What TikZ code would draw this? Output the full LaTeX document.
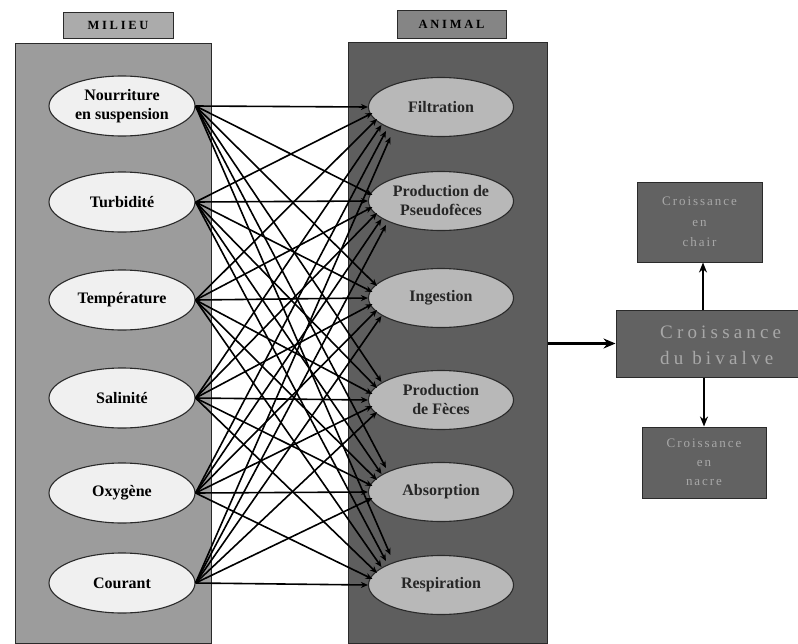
\documentclass[tikz,border=0pt]{standalone}
\usepackage{fontspec}
\setmainfont{Liberation Serif}
\newfontfamily\spacedbf[LetterSpace=22]{Liberation Serif}
\newfontfamily\spacedrm[LetterSpace=15]{Liberation Serif}
\newfontfamily\spacedbig[LetterSpace=22]{Liberation Serif}
\usetikzlibrary{shapes.geometric,arrows.meta,calc}
\definecolor{milieubg}{HTML}{9C9C9C}
\definecolor{animalbg}{HTML}{5E5E5E}
\definecolor{lellfill}{HTML}{F0F0F0}
\definecolor{rellfill}{HTML}{B8B8B8}
\definecolor{boxbg}{HTML}{626262}
\definecolor{boxtext}{HTML}{A8A8A8}
\definecolor{edgecol}{HTML}{2A2A2A}
\tikzset{
  panel/.style={draw=edgecol, line width=1pt, inner sep=0pt, anchor=center},
  tag/.style={draw=edgecol, line width=1pt, inner sep=0pt, font=\spacedbf\fontsize{12.5}{14}\selectfont\bfseries},
  lell/.style={ellipse, draw=edgecol, line width=1.1pt, fill=lellfill, minimum width=146pt, minimum height=60pt, inner sep=0pt, align=center, font=\fontsize{16}{19}\selectfont\bfseries},
  rell/.style={ellipse, draw=edgecol, line width=1.1pt, fill=rellfill, minimum width=145pt, minimum height=59pt, inner sep=0pt, align=center, font=\fontsize{16}{19}\selectfont\bfseries, text=black!85},
  conn/.style={line width=1.6pt, black, -{Stealth[length=7pt,width=6pt]}},
  gbox/.style={draw=edgecol, line width=1pt, fill=boxbg, inner sep=0pt, align=center, text=boxtext},
  boxlabel/.style={inner sep=0pt, text=boxtext, align=left, anchor=west},
  garrow/.style={line width=1.7pt, black, -{Stealth[length=10pt,width=8pt]}},
  bigarrow/.style={line width=2.4pt, black, -{Stealth[length=12pt,width=10pt]}}
}
\begin{document}
\begin{tikzpicture}[x=1pt,y=-1pt]
\useasboundingbox (0,0) rectangle (798,643);
% panels
\node[panel, fill=milieubg, minimum width=196pt, minimum height=600pt] (milieupanel) at (113,343) {};
\node[panel, fill=animalbg, minimum width=199pt, minimum height=601pt] (animalpanel) at (447.5,342.5) {};
% tags
\node[tag, fill=milieubg!85!white, minimum width=110pt, minimum height=26pt] (milieutag) at (118,25) {MILIEU};
\node[tag, fill=black!48, minimum width=109pt, minimum height=28pt] (animaltag) at (451.5,24.5) {ANIMAL};
% left ellipses
\node[lell] (l1) at (122,106) {Nourriture\\en suspension};
\node[lell] (l2) at (122,202) {Turbidité};
\node[lell] (l3) at (122,300) {Température};
\node[lell] (l4) at (122,398) {Salinité};
\node[lell] (l5) at (122,493) {Oxygène};
\node[lell] (l6) at (122,583) {Courant};
% right ellipses
\node[rell] (r1) at (441,107) {Filtration};
\node[rell] (r2) at (441,201) {Production de\\Pseudofèces};
\node[rell] (r3) at (441,298) {Ingestion};
\node[rell] (r4) at (441,400) {Production\\de Fèces};
\node[rell] (r5) at (441,492) {Absorption};
\node[rell] (r6) at (441,585) {Respiration};
% connectors
\foreach \a in {1,...,6}{
  \foreach \b in {1,...,6}{
    \pgfmathsetmacro\dd{\a-\b}
    \pgfmathsetmacro\ddx{4.5*abs(\dd)}
    \pgfmathsetmacro\ddy{6*\dd}
    \draw[conn] (l\a.east) -- ($(r\b.west)+(\ddx,\ddy)$);
  }
}
% growth boxes
\node[gbox, minimum width=125pt, minimum height=80pt, font=\spacedrm\fontsize{13}{20.5}\selectfont] (chair) at (699.5,222) {Croissance\\en\\chair};
\node[gbox, minimum width=182pt, minimum height=67pt] (bivalve) at (707,343.5) {};
\node[boxlabel, font=\spacedbig\fontsize{19}{26}\selectfont] (bivalvetext) at (660,345) {Croissance\\du bivalve};
\node[gbox, minimum width=124pt, minimum height=71pt, font=\spacedrm\fontsize{13}{19}\selectfont] (nacre) at (704,462.5) {Croissance\\en\\nacre};
\draw[bigarrow] (animalpanel.east |- bivalve.west) -- (bivalve.west);
\draw[garrow] (bivalve.north -| 703,0) -- (chair.south -| 703,0);
\draw[garrow] (bivalve.south -| 704,0) -- (nacre.north -| 704,0);
\end{tikzpicture}
\end{document}
